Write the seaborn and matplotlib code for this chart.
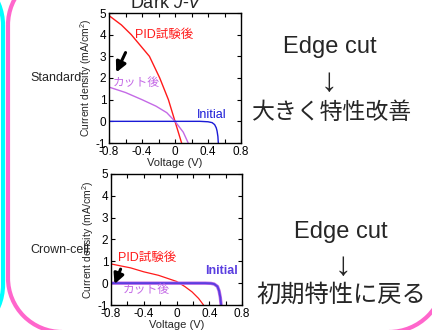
import matplotlib
matplotlib.use("Agg")
import matplotlib.pyplot as plt
from matplotlib.patches import Arc
import seaborn as sns

# ---------------- data ----------------
voltage_ticks = [-0.8, -0.4, 0, 0.4, 0.8]
voltage_minor = [-0.6, -0.2, 0.2, 0.6]
current_ticks = [-1, 0, 1, 2, 3, 4, 5]

# Standard cell
std_pid_v = [-0.8, -0.65, -0.53, -0.42, -0.31, -0.185, -0.08, 0.0, 0.04, 0.08]
std_pid_j = [4.88, 4.45, 4.0, 3.5, 3.0, 2.0, 1.0, 0.0, -0.5, -1.0]
std_cut_v = [-0.8, -0.6, -0.4, -0.23, -0.1, 0.0, 0.05, 0.1, 0.16]
std_cut_j = [1.58, 1.33, 1.0, 0.7, 0.4, 0.0, -0.25, -0.5, -1.0]
std_init_v = [-0.8, 0.0, 0.3, 0.4, 0.45, 0.48, 0.5, 0.51, 0.52, 0.525]
std_init_j = [0.0, 0.0, 0.0, -0.02, -0.06, -0.15, -0.3, -0.45, -0.7, -1.0]

# Crown cell
crn_pid_v = [-0.8, -0.56, -0.4, -0.22, 0.0, 0.1, 0.19, 0.27, 0.33]
crn_pid_j = [0.88, 0.7, 0.52, 0.36, 0.08, -0.15, -0.4, -0.7, -1.0]
crn_cut_v = [-0.8, 0.0, 0.35, 0.42, 0.46, 0.5, 0.52, 0.535, 0.545]
crn_cut_j = [0.0, 0.0, 0.0, -0.01, -0.04, -0.15, -0.35, -0.65, -1.0]
crn_init_v = [-0.8, 0.0, 0.35, 0.42, 0.46, 0.5, 0.52, 0.535, 0.545]
crn_init_j = [0.0, 0.0, 0.0, -0.01, -0.04, -0.15, -0.35, -0.65, -1.0]

# arrows (start, tip) in data units
std_arrow = [(-0.585, 3.29), (-0.727, 2.14)]
crn_arrow = [(-0.67, 0.76), (-0.77, -0.16)]

# ---------------- style ----------------
sns.set_style("ticks")
plt.rcParams["font.family"] = ["Liberation Sans", "Noto Sans CJK JP", "DejaVu Sans"]
plt.rcParams["axes.unicode_minus"] = False
plt.rcParams["mathtext.fontset"] = "custom"
plt.rcParams["mathtext.it"] = "Liberation Sans:italic"
plt.rcParams["mathtext.rm"] = "Liberation Sans"

RED = "#ff1a1a"
VIOLET = "#c46ae6"
BLUE = "#1a1ad6"
BLUE2 = "#5a3ee0"

fig = plt.figure(figsize=(4.32, 3.30), dpi=100)

# decoration overlay (slide frame)
deco = fig.add_axes([0, 0, 1, 1], zorder=-5)
deco.set_xlim(0, 432)
deco.set_ylim(0, 330)
deco.axis("off")
PINK = "#ff66cc"
CYAN = "#00ffff"
lw_f = 3.0
deco.plot([8, 8], [52, 305], color=PINK, lw=lw_f, solid_capstyle="butt")
deco.add_patch(Arc((62, 52), 108, 108, theta1=180, theta2=270, color=PINK, lw=lw_f))
deco.add_patch(Arc((62, 305), 108, 108, theta1=90, theta2=180, color=PINK, lw=lw_f))
deco.add_patch(Arc((389, 53), 110, 110, theta1=270, theta2=360, color=PINK, lw=lw_f))
deco.plot([3, 3], [45, 305], color=CYAN, lw=lw_f, solid_capstyle="butt")
deco.add_patch(Arc((-52, 45), 110, 110, theta1=270, theta2=360, color=CYAN, lw=lw_f))
deco.add_patch(Arc((-52, 305), 110, 110, theta1=0, theta2=90, color=CYAN, lw=lw_f))

ax1 = fig.add_axes([109 / 432, 1 - 143 / 330, 132 / 432, 130 / 330])
ax2 = fig.add_axes([111 / 432, 1 - 305 / 330, 131 / 432, 131 / 330])


def style_axis(ax):
    ax.set_xlim(-0.8, 0.8)
    ax.set_ylim(-1, 5)
    ax.set_xticks(voltage_ticks)
    ax.set_xticklabels(["-0.8", "-0.4", "0", "0.4", "0.8"])
    ax.set_xticks(voltage_minor, minor=True)
    ax.set_yticks(current_ticks)
    ax.set_yticklabels([str(t) for t in current_ticks])
    ax.tick_params(which="both", direction="in", top=True, right=True,
                   length=3, width=0.8, labelsize=8.5, pad=2, colors="black")
    for s in ax.spines.values():
        s.set_linewidth(1.0)
        s.set_color("black")
        s.set_visible(True)
    ax.set_xlabel("Voltage (V)", fontsize=8, labelpad=0)
    ax.set_ylabel("Current density (mA/cm$^2$)", fontsize=7.5, labelpad=1)


# top: standard
sns.lineplot(x=std_pid_v, y=std_pid_j, ax=ax1, color=RED, lw=1.0, sort=False)
sns.lineplot(x=std_cut_v, y=std_cut_j, ax=ax1, color=VIOLET, lw=1.0, sort=False)
sns.lineplot(x=std_init_v, y=std_init_j, ax=ax1, color=BLUE, lw=1.0, sort=False)
style_axis(ax1)
ax1.text(-0.49, 3.98, "PID試験後", color=RED, fontsize=9, va="center", ha="left")
ax1.text(-0.76, 1.77, "カット後", color=VIOLET, fontsize=8.5, va="center", ha="left")
ax1.text(0.27, 0.3, "Initial", color=BLUE, fontsize=9, va="center", ha="left")
ax1.annotate("", xy=std_arrow[1], xytext=std_arrow[0],
             arrowprops=dict(arrowstyle="-|>,head_length=0.6,head_width=0.3",
                             color="black", lw=2.2))
fig.text(167 / 432, 1 - 8 / 330, "Dark $J$-$V$", fontsize=13,
         ha="center", va="baseline")
fig.text(30 / 432, 1 - 78 / 330, "Standard", fontsize=9, ha="left", va="center")

# bottom: crown cell
sns.lineplot(x=crn_pid_v, y=crn_pid_j, ax=ax2, color=RED, lw=0.9, sort=False)
sns.lineplot(x=crn_cut_v, y=crn_cut_j, ax=ax2, color=VIOLET, lw=2.4, sort=False)
sns.lineplot(x=crn_init_v, y=crn_init_j, ax=ax2, color=BLUE2, lw=1.4, sort=False)
style_axis(ax2)
ax2.text(-0.71, 1.17, "PID試験後", color=RED, fontsize=9, va="center", ha="left")
ax2.text(-0.66, -0.33, "カット後", color=VIOLET, fontsize=8.5, va="center", ha="left")
ax2.text(0.35, 0.58, "Initial", color=BLUE2, fontsize=9, va="center", ha="left",
         fontweight="bold")
ax2.annotate("", xy=crn_arrow[1], xytext=crn_arrow[0],
             arrowprops=dict(arrowstyle="-|>,head_length=0.6,head_width=0.3",
                             color="black", lw=2.2))
fig.text(30 / 432, 1 - 250 / 330, "Crown-cell", fontsize=9, ha="left", va="center")

# right-hand annotations
ARROW_FONT = ["Liberation Sans", "DejaVu Sans"]
fig.text(330 / 432, 1 - 47 / 330, "Edge cut", fontsize=17, ha="center", va="center")
fig.text(329 / 432, 1 - 82 / 330, "↓", fontsize=24, ha="center", va="center",
         family=ARROW_FONT)
fig.text(332 / 432, 1 - 112 / 330, "大きく特性改善", fontsize=16.5, ha="center", va="center")
fig.text(341 / 432, 1 - 232 / 330, "Edge cut", fontsize=17, ha="center", va="center")
fig.text(343 / 432, 1 - 267 / 330, "↓", fontsize=24, ha="center", va="center",
         family=ARROW_FONT)
fig.text(341 / 432, 1 - 295 / 330, "初期特性に戻る", fontsize=17.5, ha="center", va="center")

fig.savefig("out.png", dpi=100)
